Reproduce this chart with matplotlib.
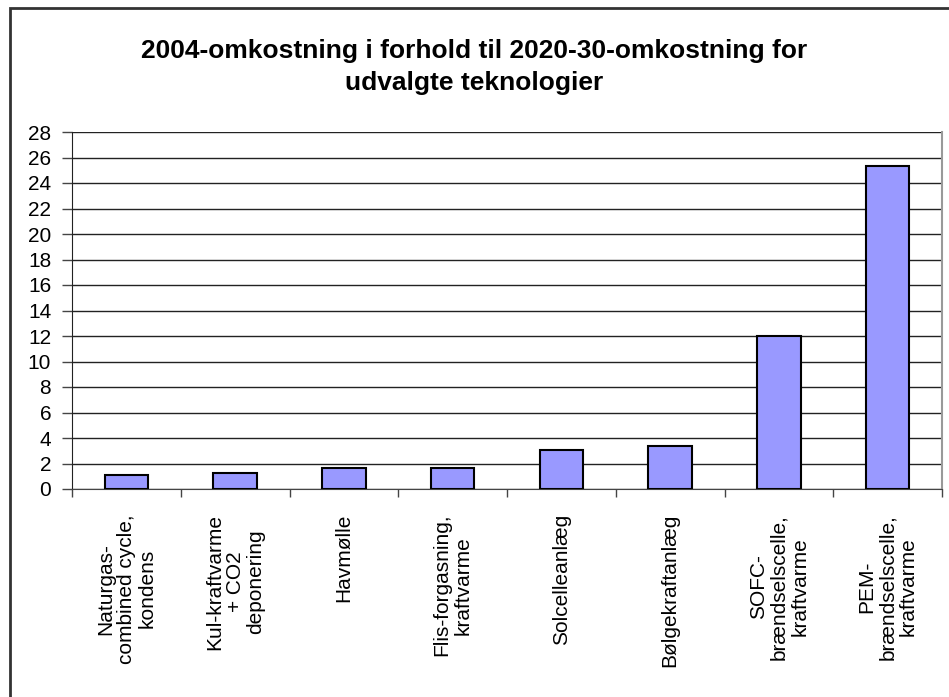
import matplotlib.pyplot as plt
from matplotlib.patches import Rectangle

# technologies and cost ratio (2004 cost / 2020-30 cost)
technologies = [
    "Naturgas-\ncombined cycle,\nkondens",
    "Kul-kraftvarme\n+ CO2\ndeponering",
    "Havmølle",
    "Flis-forgasning,\nkraftvarme",
    "Solcelleanlæg",
    "Bølgekraftanlæg",
    "SOFC-\nbrændselscelle,\nkraftvarme",
    "PEM-\nbrændselscelle,\nkraftvarme",
]
ratios = [1.1, 1.23, 1.63, 1.65, 3.05, 3.38, 12.0, 25.3]
y_ticks = list(range(0, 29, 2))


def main():
    plt.rcParams['font.family'] = ['Liberation Sans', 'DejaVu Sans']

    fig = plt.figure(figsize=(9.49, 6.97), dpi=100)
    ax = fig.add_axes([72 / 949, 1 - 489 / 697, 870 / 949, 357 / 697])

    x = list(range(len(technologies)))
    ax.bar(x, ratios, width=0.4, color='#9999ff', edgecolor='black',
           linewidth=1.5, zorder=3)

    ax.set_xlim(-0.5, len(technologies) - 0.5)
    ax.set_ylim(0, 28)
    ax.set_yticks(y_ticks)
    ax.set_yticklabels([str(v) for v in y_ticks], fontsize=15)
    ax.yaxis.grid(True, color='#222222', linewidth=1.0, zorder=0)

    # category labels sit under the bars, ticks between categories
    ax.set_xticks(x)
    ax.set_xticklabels(technologies, fontsize=15)
    for lbl in ax.get_xticklabels():
        lbl.set_rotation(90)
        lbl.set_rotation_mode('anchor')
        lbl.set_ha('right')
        lbl.set_va('center')
        lbl.set_multialignment('center')
        lbl.set_linespacing(1.12)
    ax.set_xticks([i + 0.5 for i in range(-1, len(technologies))], minor=True)
    ax.tick_params(axis='x', which='major', length=0, pad=18)
    ax.tick_params(axis='x', which='minor', length=6, width=1, color='#444444')
    ax.tick_params(axis='y', length=7, width=1, pad=8, color='#444444')

    ax.spines['top'].set_visible(False)
    ax.spines['right'].set_color('#999999')
    ax.spines['right'].set_linewidth(1.5)
    ax.spines['left'].set_color('#222222')
    ax.spines['bottom'].set_color('#444444')

    fig.text(0.5, 1 - 67 / 697,
             "2004-omkostning i forhold til 2020-30-omkostning for\nudvalgte teknologier",
             ha='center', va='center', fontsize=19, fontweight='bold',
             linespacing=1.4)

    # outer chart frame
    frame = Rectangle((9.5 / 949, -0.05), 1.2, 1 - 7.5 / 697 + 0.05,
                      transform=fig.transFigure, fill=False,
                      edgecolor='#333333', linewidth=2, clip_on=False)
    fig.patches.append(frame)

    fig.savefig('out.png', dpi=100)


if __name__ == '__main__':
    main()
